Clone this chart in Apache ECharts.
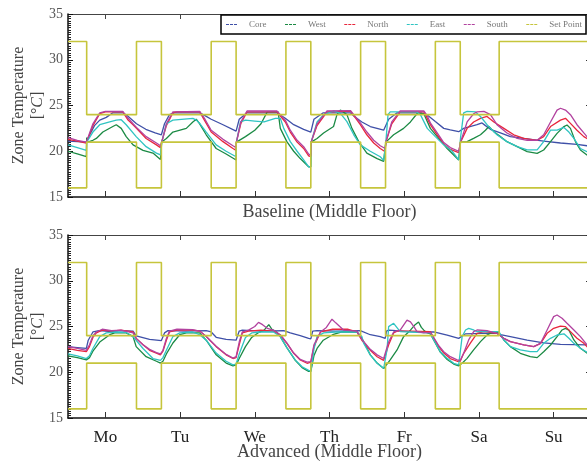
<!DOCTYPE html>
<html><head><meta charset="utf-8">
<script src="https://cdn.jsdelivr.net/npm/echarts@6/dist/echarts.min.js"></script>
<style>html,body{margin:0;padding:0;background:#fff}#c{width:587px;height:464px}</style>
</head><body><div id="c"></div>
<script>
// ---------- data (hour of week from Monday 00:00, temperature °C) ----------
const dayLabels = ['Mo','Tu','We','Th','Fr','Sa','Su'];
const dayTickHours = [12,36,60,84,108,132,156];
const zoneNames = ['Core','West','North','East','South'];
const setPointName = 'Set Point';
const panelTitles = ['Baseline (Middle Floor)','Advanced (Middle Floor)'];

const setUpper = [[0,32],[6,24],[22,32],[30,24],[46,32],[54,24],[70,32],[78,24],[94,32],[102,24],[118,32],[126,24],[138.5,32],[168,32]];
const setLower = [[0,16],[6,21],[22,16],[30,21],[46,16],[54,21],[70,16],[78,21],[94,16],[102,21],[118,16],[126,21],[138.5,16],[168,16]];

const baseCore = [[0,21.1],[3,21.05],[5.9,21.0],[7,21.8],[8.5,22.8],[10.2,23.4],[12.3,23.7],[14.4,24.2],[17.6,24.2],[19,23.9],[22,23.0],[25,22.4],[28,22.0],[30,21.8],[31,23.0],[32.6,24.0],[34,24.2],[42.3,24.2],[44,23.9],[46,23.5],[49.8,22.9],[54,22.2],[55,23.5],[57.5,24.2],[67.1,24.2],[69.8,23.6],[72.5,22.9],[75.7,22.4],[78,22.1],[79,23.5],[82,24.2],[90.7,24.2],[92,23.8],[94.4,23.2],[97.1,22.7],[101.4,22.3],[102,22.2],[103,23.5],[105.7,24.2],[113.5,24.2],[115.4,23.96],[118,23.24],[120.7,22.5],[122.8,22.33],[125.5,22.14],[126,22.1],[127.1,22.5],[131.4,22.9],[133,23.1],[134.1,22.8],[135.7,22.4],[138.9,22.0],[142.1,21.6],[146.4,21.41],[152.8,21.1],[158.2,20.9],[163.5,20.75],[166.7,20.6],[168,20.55]];
const baseWest = [[0,20.0],[3,19.7],[5.9,19.4],[6,21.5],[6.3,21.0],[8,21.2],[9.1,21.4],[11.2,22.1],[14.4,22.7],[15.5,22.9],[17.1,22.5],[18.7,21.6],[20.9,20.7],[24.1,20.1],[27.3,19.8],[29.7,19.1],[30,19.05],[30.1,21.0],[31.6,21.4],[33.7,22.1],[38,22.5],[40.1,23.2],[41.2,23.5],[42.3,23.0],[44.4,21.8],[47.6,20.3],[50.8,19.7],[54,19.05],[54.1,21.0],[57,21.6],[60,22.3],[62,23.0],[64,24.3],[67.5,24.3],[68.2,22.5],[70.3,21.05],[72.5,20.0],[74.6,19.2],[77.3,18.3],[78,18.3],[78.1,21.0],[80,21.4],[82.1,22.0],[85.3,22.7],[86.4,24.0],[87.5,24.5],[89.6,24.0],[91.2,22.5],[93.4,21.05],[96,19.8],[99.3,19.2],[101.4,18.9],[102,18.9],[102.1,21.0],[104.6,21.8],[107.8,22.5],[110,23.2],[112.1,24.1],[114.3,24.1],[116.4,22.5],[118.6,21.6],[121.8,20.3],[125.5,19.05],[126,19.0],[126.1,21.0],[128.2,21.05],[130.3,21.4],[132.5,21.8],[134.1,22.3],[135.2,22.7],[136.8,22.14],[138.9,21.6],[141,21.05],[144.3,20.5],[147.5,19.96],[150.7,19.77],[152.8,20.14],[155,21.05],[157.1,21.95],[159.3,22.7],[160.3,22.87],[161.4,22.5],[163,21.05],[164.6,20.14],[166.7,19.6],[168,19.4]];
const baseNorth = [[0,21.3],[3,21.1],[5.9,20.9],[6,21.0],[8,22.8],[10.2,24.1],[12,24.3],[17.6,24.3],[19.3,23.4],[20.9,22.9],[22,22.5],[25.1,21.4],[28.4,20.7],[29.7,20.4],[30,20.4],[30.1,21.0],[31.6,22.8],[33.7,24.2],[35,24.3],[42.3,24.3],[44,23.3],[46,22.1],[49.8,21.05],[53,20.3],[54,20.1],[54.1,21.0],[55.5,23.0],[57.5,24.3],[67.1,24.3],[69.8,23.2],[71.4,22.1],[73.6,21.0],[75.7,20.3],[77.3,19.5],[78,19.4],[78.1,21.0],[80,22.8],[83.2,24.3],[90.7,24.4],[93.9,22.9],[96,21.8],[98.2,20.9],[100.3,20.3],[101.9,19.95],[102,19.9],[102.1,21.0],[104,23.0],[106.7,24.3],[114.3,24.3],[114.8,24.0],[116.4,22.9],[118.6,21.8],[120.7,20.8],[122.8,20.2],[125.5,19.85],[126,19.8],[126.1,21.0],[128.2,22.5],[130.3,23.2],[132.5,23.6],[134.6,23.8],[136.8,23.2],[140,22.5],[143.2,21.8],[146.4,21.4],[150.7,21.2],[152.8,21.6],[155,22.7],[158.2,23.4],[159.8,23.6],[161.4,23.05],[163.5,22.3],[165.7,21.6],[166.7,21.4],[168,21.1]];
const baseEast = [[0,20.7],[3,20.4],[5.9,20.1],[6,21.0],[8,22.1],[10.2,22.9],[13.4,23.2],[15.5,23.4],[17.1,23.45],[18.7,22.9],[21.9,21.6],[25.1,20.5],[28.4,19.8],[29.7,19.6],[30,19.55],[30.1,21.0],[31.6,23.0],[33.7,23.4],[40.1,23.6],[41.2,23.4],[42.3,23.05],[44.4,22.1],[47.6,20.7],[50.8,20.0],[54,19.4],[54.1,21.0],[55.4,23.2],[57,23.4],[60,23.3],[63,23.2],[66.6,23.6],[68.2,23.6],[69.3,22.5],[71.4,21.05],[73.6,20.0],[75.7,19.05],[77.3,18.3],[78,18.3],[78.1,21.0],[80,23.2],[82.1,24.0],[85.3,24.4],[87.5,24.15],[89.6,23.24],[91.8,21.8],[93.9,20.7],[97.1,20.0],[100.3,19.4],[101.4,19.0],[102,18.95],[102.1,21.0],[102.8,24.0],[103.5,24.3],[112,24.3],[113.2,24.0],[115.4,22.5],[118,21.6],[120.7,20.7],[123.4,20.0],[125.5,19.05],[126,19.0],[126.1,21.5],[127.1,24.2],[128.2,24.35],[130.9,24.3],[132.5,23.8],[134.6,22.9],[137.8,21.8],[141,21.05],[144.3,20.5],[147.5,20.14],[150.7,20.14],[152.8,21.05],[155,22.3],[157.1,22.3],[159.3,22.6],[160.9,22.1],[162.5,21.4],[164.6,20.3],[166.7,19.96],[168,19.8]];
const baseSouth = [[0,21.5],[3,21.2],[5.9,21.0],[8,23.0],[10.2,24.2],[12,24.35],[17.6,24.35],[19.3,23.6],[20.9,23.0],[22,22.6],[25.1,21.6],[28.4,20.9],[29.7,20.6],[30,20.6],[30.1,21.0],[31.6,23.0],[33.7,24.3],[42.3,24.35],[44,23.5],[46,22.3],[49.8,21.3],[53,20.6],[54,20.4],[54.1,21.0],[55.5,23.2],[57.5,24.4],[67.1,24.4],[69.8,23.4],[71.4,22.3],[73.6,21.2],[75.7,20.5],[77.3,19.7],[78,19.5],[78.1,21.0],[80,23.0],[83.2,24.4],[90.7,24.45],[93.9,23.1],[96,22.1],[98.2,21.2],[100.3,20.6],[101.9,20.3],[102,20.2],[102.1,21.0],[104,23.2],[106.7,24.4],[114.3,24.4],[115.4,23.9],[116.4,23.1],[118.6,22.0],[120.7,20.95],[122.8,20.4],[125.5,20.0],[126,19.95],[126.1,21.0],[128.2,23.2],[130.3,24.1],[131.4,24.3],[133.6,24.35],[135.7,24.0],[137.8,22.9],[141,22.0],[144.3,21.4],[147.5,21.2],[150.7,21.2],[152.8,21.8],[155,23.2],[157.1,24.5],[158.2,24.7],[159.8,24.5],[161.4,24.0],[163.5,22.9],[165.7,22.0],[166.7,21.6],[168,21.3]];

const advCore = [[0,22.8],[3,22.7],[5.9,22.6],[6.5,23.5],[8,24.4],[10,24.55],[14,24.45],[17,24.55],[20.9,24.5],[21.9,23.97],[26.2,23.6],[30,23.46],[31,24.3],[32.1,24.55],[38,24.5],[44.4,24.55],[46,24.4],[47.6,23.82],[50.8,23.6],[54,23.5],[55,24.5],[56,24.6],[62,24.5],[69.3,24.55],[71.4,24.3],[74.6,24.0],[77.3,23.7],[78,23.65],[78.6,24.5],[80,24.55],[86,24.5],[93.9,24.55],[97.1,24.1],[100.3,23.9],[101.9,23.7],[102.3,24.5],[103,24.6],[110,24.45],[117.5,24.4],[118,24.26],[121.8,24.07],[125.5,23.7],[126.1,23.8],[127.7,24.2],[133,24.25],[137.8,24.25],[138.9,24.1],[142.1,23.9],[147.5,23.5],[152.8,23.2],[158.2,23.05],[166.7,23.0],[168,22.95]];
const advWest = [[0,21.8],[3,21.6],[5.9,21.35],[6.9,21.6],[8,22.3],[10.2,23.3],[13.4,24.1],[15,24.3],[18.7,24.3],[20.9,23.9],[21.9,22.8],[25.1,21.7],[28.4,21.2],[29.7,21.0],[30.5,21.2],[31.6,22.0],[33.7,23.2],[35.9,24.1],[38,24.3],[42.3,24.3],[44.4,23.5],[47.6,21.9],[50.8,21.0],[53,20.7],[54,20.8],[55,21.5],[57,22.8],[59,23.8],[61,24.3],[63,24.6],[64.5,25.2],[65.5,24.7],[67,24.4],[68.2,23.9],[70.3,22.7],[73,21.3],[75.2,20.5],[77.3,20.1],[78,20.1],[79,21.8],[80,22.6],[82,23.5],[85,24.1],[88,24.4],[92.8,24.4],[94.4,23.7],[95.5,23.0],[97.1,21.9],[99.3,21.0],[101.4,20.4],[102,20.3],[103.5,21.35],[105.7,22.44],[107.8,23.89],[110,24.6],[111.5,25.2],[112.6,25.5],[113.5,24.9],[114.3,24.6],[115.4,24.3],[116.4,24.2],[117.5,23.5],[119.6,22.2],[121.8,21.4],[123.9,20.9],[125.5,20.7],[126,20.7],[126.6,20.98],[128.2,21.52],[130.3,22.44],[132.5,23.35],[134.6,24.07],[136.8,24.44],[138.4,24.3],[140,23.53],[142.1,22.8],[145.3,22.07],[148.5,21.71],[150.7,21.6],[152.8,22.25],[155,22.98],[157.1,23.89],[158.7,24.62],[159.8,24.8],[160.9,24.6],[162.5,23.53],[164.6,22.62],[166.7,22.1],[168,21.9]];
const advNorth = [[0,22.6],[3,22.4],[5.9,22.25],[6.9,22.8],[8,23.8],[9.1,24.3],[11,24.6],[14,24.5],[17,24.6],[20.9,24.4],[21.9,23.7],[24.1,23.0],[26.2,22.4],[28.4,22.1],[29.7,21.9],[30.5,22.3],[31.6,23.5],[32.6,24.4],[35,24.6],[40,24.6],[42.3,24.5],[44.4,23.9],[47.6,22.8],[50.8,21.9],[53,21.5],[54,21.6],[55,23.0],[56,24.3],[58,24.5],[62,24.6],[66,24.5],[68.2,24.07],[70.3,23.16],[72.5,22.07],[74.6,21.34],[76.8,20.98],[78,21.1],[79,22.8],[81.1,24.4],[85,24.7],[90,24.7],[92.8,24.4],[94.4,23.5],[97.1,22.4],[99.3,21.7],[101.4,21.3],[102,21.3],[103,23.0],[104.6,24.3],[105.7,24.5],[110,24.5],[116.4,24.45],[117.5,23.7],[119.1,22.8],[120.7,22.1],[122.8,21.5],[125,21.2],[126,21.2],[127.1,22.07],[129.3,23.2],[131.4,24.26],[133.6,24.44],[137.8,24.26],[140,23.71],[142.1,23.35],[146.4,22.98],[149.6,22.8],[151.8,23.16],[153.9,24.26],[156,24.8],[158.2,25.05],[159.8,24.99],[161.4,24.44],[163.5,23.71],[165.7,23.16],[166.7,22.8],[168,22.5]];
const advEast = [[0,22.0],[3,21.8],[5.9,21.5],[6.9,21.8],[8,22.6],[10.2,23.9],[12.3,24.3],[15,24.4],[18.7,24.35],[20.9,23.9],[24.1,22.6],[27.3,21.5],[29.7,21.3],[30.5,21.6],[31.6,22.4],[33.7,23.9],[35.9,24.3],[40,24.4],[42.3,24.1],[44.4,23.5],[47.6,22.1],[50.8,21.2],[53,20.8],[54,20.9],[55,22.0],[57,23.8],[59,24.3],[62,24.4],[66,24.4],[68.2,23.9],[70.3,22.7],[73,21.35],[75.2,20.6],[77.3,20.2],[78,20.1],[79,22.5],[80,23.9],[82.1,24.3],[86,24.4],[92.8,24.4],[94.4,23.9],[95,23.16],[97.1,21.9],[99.3,20.98],[101.4,20.43],[102,20.4],[102.5,22.5],[103,24.99],[104.6,25.35],[106.7,24.44],[110,24.4],[116.4,24.3],[117.5,23.53],[119.6,22.25],[121.8,21.52],[123.9,20.98],[125.5,20.8],[126,20.8],[126.6,23.89],[127.7,24.62],[128.7,24.8],[130.3,24.62],[131.4,24.44],[138.4,24.44],[140,23.53],[142.1,22.8],[145.3,22.44],[148.5,22.25],[150.7,22.25],[152.8,23.16],[155,23.71],[157.1,24.07],[159.3,24.2],[160.9,23.71],[162.5,23.16],[164.6,22.62],[166.7,22.2],[168,22.0]];
const advSouth = [[0,22.8],[3,22.6],[5.9,22.4],[6.9,23.0],[8,24.0],[9.1,24.4],[11,24.7],[14,24.55],[17,24.6],[20.9,24.3],[21.9,23.7],[24.1,23.0],[26.2,22.5],[28.4,22.15],[29.7,22.0],[30.5,22.4],[31.6,23.7],[32.6,24.5],[35,24.7],[40,24.65],[42.3,24.5],[44.4,23.9],[47.6,22.85],[50.8,21.95],[53,21.55],[54,21.7],[55,23.3],[56,24.4],[58,24.6],[60,25.0],[61.2,25.45],[62.5,25.2],[64,24.8],[66,24.6],[68.2,24.1],[70.3,23.2],[72.5,22.1],[74.6,21.4],[76.8,21.1],[78,21.15],[79,23.0],[81.1,24.4],[83,24.9],[84.8,25.8],[86,25.4],[88.6,24.6],[92.8,24.5],[94.4,23.6],[97.1,22.5],[99.3,21.9],[101.4,21.5],[102,21.5],[103,23.3],[104.6,24.4],[106.7,24.6],[108.9,25.7],[110,25.5],[111.1,24.99],[112.1,24.44],[114.3,24.3],[116.4,24.35],[117.5,23.8],[119.1,22.9],[120.7,22.25],[122.8,21.7],[125,21.35],[126,21.3],[127.1,22.07],[128.7,23.53],[130.3,24.44],[131.4,24.62],[134.6,24.55],[137.8,24.26],[140,23.71],[142.1,23.35],[146.4,22.98],[149.6,22.8],[151.8,23.16],[153.9,24.62],[156,26.08],[157.1,26.26],[158.7,25.9],[160.3,25.35],[162.5,24.62],[164.6,23.89],[166.7,23.0],[168,22.5]];

// ---------- styling ----------
const SERIF = '"Liberation Serif","DejaVu Serif",serif';
const colors = {Core:'#3f50a8', West:'#1b8a44', North:'#e8263c', East:'#2fc4c2', South:'#b2429f', 'Set Point':'#c6c53c'};
const panels = [
  {zones:[baseCore,baseWest,baseNorth,baseEast,baseSouth], top:14},
  {zones:[advCore,advWest,advNorth,advEast,advSouth], top:235}
];

const grids = [], xAxes = [], yAxes = [], series = [];
panels.forEach((p, i) => {
  grids.push({left:68, top:p.top, width:523, height:183, containLabel:false, outerBoundsMode:'none'});
  const isBottom = i === 1;
  xAxes.push({
    gridIndex:i, type:'value', min:0, max:168, position:'bottom',
    name: panelTitles[i], nameLocation:'middle', nameGap: isBottom ? 25 : 6, nameMoveOverlap:false,
    nameTextStyle:{fontFamily:SERIF, fontSize:18, color:'#444'},
    axisLine:{show:true, onZero:false, lineStyle:{color:'#111', width:1.5}},
    axisTick:{show:true, inside:true, length:6, customValues:dayTickHours, lineStyle:{color:'#333'}},
    axisLabel:{show:isBottom, customValues:dayTickHours, margin:11,
      formatter:(v)=>dayLabels[dayTickHours.indexOf(v)] || '',
      fontFamily:SERIF, fontSize:17, color:'#222'},
    splitLine:{show:false}
  });
  xAxes.push({
    gridIndex:i, type:'value', min:0, max:168, position:'top',
    axisLine:{show:true, onZero:false, lineStyle:{color:'#444', width:1}},
    axisTick:{show:true, inside:true, length:5, customValues:dayTickHours, lineStyle:{color:'#444'}},
    axisLabel:{show:false}, splitLine:{show:false}
  });
  yAxes.push({
    gridIndex:i, type:'value', min:15, max:35, interval:5, position:'left',
    name:'Zone Temperature\n[°{it|C}]', nameLocation:'middle', nameGap:21, nameRotate:90, nameMoveOverlap:false,
    nameTextStyle:{fontFamily:SERIF, fontSize:16, color:'#444', lineHeight:19,
      rich:{it:{fontFamily:SERIF, fontSize:16, fontStyle:'italic', color:'#444'}}},
    axisLine:{show:true, onZero:false, lineStyle:{color:'#111', width:1.5}},
    axisTick:{show:true, inside:true, length:5, lineStyle:{color:'#111'}},
    minorTick:{show:true, splitNumber:20, length:3, lineStyle:{color:'#222'}},
    axisLabel:{margin:5, fontFamily:SERIF, fontSize:14, color:'#555'},
    splitLine:{show:false}
  });
  yAxes.push({
    gridIndex:i, type:'value', min:15, max:35, interval:5, position:'right',
    axisLine:{show:true, onZero:false, lineStyle:{color:'#111', width:1}},
    axisTick:{show:true, inside:true, length:5, lineStyle:{color:'#333'}},
    axisLabel:{show:false}, splitLine:{show:false}
  });
  p.zones.forEach((d, k) => {
    series.push({
      type:'line', name:zoneNames[k], xAxisIndex:i*2, yAxisIndex:i*2, data:d,
      symbol:'none', lineStyle:{color:colors[zoneNames[k]], width:1.3}, itemStyle:{color:colors[zoneNames[k]]},
      silent:true, z:2
    });
  });
  [setUpper, setLower].forEach(d => {
    series.push({
      type:'line', name:setPointName, xAxisIndex:i*2, yAxisIndex:i*2, data:d, step:'end',
      symbol:'none', lineStyle:{color:colors[setPointName], width:1.6}, itemStyle:{color:colors[setPointName]},
      silent:true, z:3
    });
  });
});

const chart = echarts.init(document.getElementById('c'), null, {renderer:'canvas'});
chart.setOption({
  animation:false,
  backgroundColor:'#fff',
  grid:grids, xAxis:xAxes, yAxis:yAxes, series:series,
  legend:{
    data:[...zoneNames, setPointName], left:221, top:15, orient:'horizontal',
    backgroundColor:'#fff', borderColor:'#000', borderWidth:1.5, borderRadius:0,
    padding:[5,4,5,5], itemWidth:11, itemHeight:2, itemGap:18.5, selectedMode:false,
    icon:'path://M0,0H3V1H0ZM4,0H7V1H4ZM8,0H11V1H8Z',
    textStyle:{fontFamily:SERIF, fontSize:9, color:'#777', width:30, padding:[0,0,0,7]},
    z:10
  }
});
</script></body></html>
